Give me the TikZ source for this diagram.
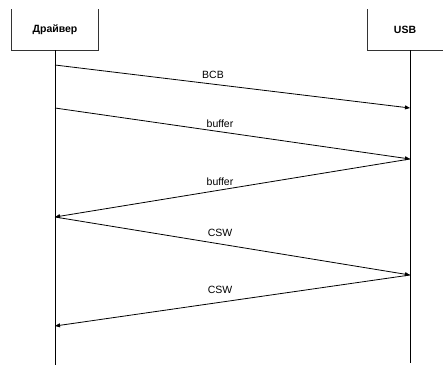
\documentclass[tikz,border=0pt]{standalone}
\usepackage{fontspec}
\setmainfont{Liberation Sans}
\usetikzlibrary{arrows.meta}
\begin{document}
\begin{tikzpicture}[x=1pt,y=-1pt,
  life/.style={line width=0.9pt},
  boxline/.style={line width=0.8pt, draw=black!80},
  msg/.style={line width=0.8pt, -{Triangle[length=5pt,width=4pt]}},
  lbl/.style={fill=white, inner sep=0.5pt, font=\fontsize{10.5}{12}\selectfont},
  head/.style={font=\bfseries\fontsize{10.5}{12}\selectfont, inner sep=0pt}]
\useasboundingbox (0,0) rectangle (443,365);
% participant boxes (no top edge)
\draw[boxline] (11,9) -- (11,50) -- (98,50) -- (98,9);
\draw[boxline] (367,9) -- (367,50) -- (443,50);
\node[head] (drv) at (55,30) {Драйвер};
\node[head] (usb) at (405,30) {USB};
% lifelines
\coordinate (dtop) at (55,50);
\coordinate (dbot) at (55,365);
\coordinate (utop) at (410,50);
\coordinate (ubot) at (410,363);
\draw[life] (dtop) -- (dbot);
\draw[life] (utop) -- (ubot);
% message endpoints
\coordinate (d1) at (55,65);
\coordinate (u1) at (410,108);
\coordinate (d2) at (55,108);
\coordinate (u2) at (410,159);
\coordinate (d3) at (55,217);
\coordinate (u4) at (410,275);
\coordinate (d5) at (55,326);
% messages
\draw[msg] (d1) -- (u1);
\draw[msg] (d2) -- (u2);
\draw[msg] (u2) -- (d3);
\draw[msg] (d3) -- (u4);
\draw[msg] (u4) -- (d5);
% labels
\node[lbl] (l1) at (213,75) {BCB};
\node[lbl] (l2) at (220,124) {buffer};
\node[lbl] (l3) at (220,182) {buffer};
\node[lbl] (l4) at (220,233) {CSW};
\node[lbl] (l5) at (220,290) {CSW};
\end{tikzpicture}
\end{document}
